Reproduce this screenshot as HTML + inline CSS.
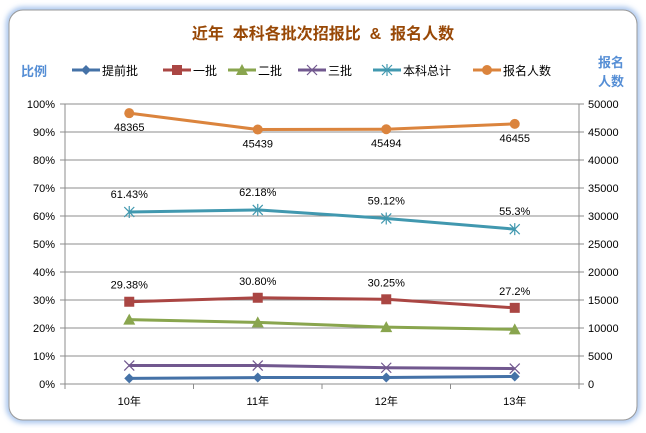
<!DOCTYPE html>
<html><head><meta charset="utf-8"><style>
body{margin:0;background:#fff;font-family:"Liberation Sans","Noto Sans CJK SC",sans-serif}
</style></head><body>
<svg width="646" height="428" xmlns="http://www.w3.org/2000/svg" style="font-family:'Liberation Sans','Noto Sans CJK SC',sans-serif">
<defs><filter id="g" x="-5%" y="-5%" width="110%" height="110%"><feGaussianBlur stdDeviation="3"/></filter></defs>
<rect x="9" y="10" width="628" height="410" rx="14" fill="none" stroke="#8fb4e8" stroke-width="5" filter="url(#g)"/>
<rect x="9" y="10" width="628" height="410" rx="14" fill="#fff" stroke="#9a9a9a" stroke-width="1"/>
<text x="323" y="39" text-anchor="middle" font-size="16" font-weight="bold" fill="#984806" xml:space="preserve">近年  本科各批次招报比  &amp;  报名人数</text>
<text x="34" y="76" text-anchor="middle" font-size="13" font-weight="bold" fill="#558ed5">比例</text>
<text x="611" y="67" text-anchor="middle" font-size="13" font-weight="bold" fill="#558ed5">报名</text>
<text x="611" y="86" text-anchor="middle" font-size="13" font-weight="bold" fill="#558ed5">人数</text>
<g id="legend"></g>
<g id="grid"></g><g id="plot"></g>
</svg>
<script>
const categories=['10年','11年','12年','13年'];
const s0=[2.0,2.3,2.3,2.7];
const s1=[29.38,30.80,30.25,27.2];
const s2=[23.0,22.0,20.3,19.5];
const s3=[6.6,6.6,5.8,5.5];
const s4=[61.43,62.18,59.12,55.3];
const s5=[48365,45439,45494,46455];
const s1Labels=['29.38%','30.80%','30.25%','27.2%'];
const s4Labels=['61.43%','62.18%','59.12%','55.3%'];
const s5Labels=['48365','45439','45494','46455'];
const leftTicks=[0,10,20,30,40,50,60,70,80,90,100];
const rightTicks=[0,5000,10000,15000,20000,25000,30000,35000,40000,45000,50000];
const names=['提前批','一批','二批','三批','本科总计','报名人数'];
const colors=['#4572a7','#aa4643','#89a54e','#71588f','#4198af','#db843d'];
const markers=['diamond','square','triangle','x','star','circle'];
const NS='http://www.w3.org/2000/svg';
const L=65,R=579,T=104,B=384;
const x=i=>L+(R-L)/categories.length*(i+0.5);
const yL=v=>B-(B-T)*v/100;
const yR=v=>B-(B-T)*v/50000;
function el(t,a,p){const e=document.createElementNS(NS,t);for(const k in a)e.setAttribute(k,a[k]);p.appendChild(e);return e;}
const grid=document.getElementById('grid'),plot=document.getElementById('plot'),leg=document.getElementById('legend');
leftTicks.forEach((v,i)=>{
 const l=el('line',{x1:L-5,x2:R+5,y1:yL(v),y2:yL(v),stroke:'#8c8c8c','stroke-width':1},grid);
 
 
 const t=el('text',{x:L-10,y:yL(v)+4,'text-anchor':'end','font-size':11,fill:'#000'},grid);t.textContent=v+'%';
 
 
});
rightTicks.forEach(v=>{
 const t=el('text',{x:R+9,y:yR(v)+4,'font-size':11,fill:'#000'},grid);t.textContent=v;
 
 
});
el('line',{x1:L,x2:L,y1:T,y2:B,stroke:'#8c8c8c'},grid);
el('line',{x1:R,x2:R,y1:T,y2:B,stroke:'#8c8c8c'},grid);
for(let i=0;i<=categories.length;i++)el('line',{x1:L+(R-L)/categories.length*i,x2:L+(R-L)/categories.length*i,y1:B,y2:B+5,stroke:'#8c8c8c'},grid);
categories.forEach((c,i)=>{const t=el('text',{x:x(i),y:B+21,'text-anchor':'middle','font-size':11},grid);t.textContent=c;
 
 });
function marker(type,cx,cy,col,g){
 if(type==='diamond')el('polygon',{points:`${cx},${cy-5} ${cx+5},${cy} ${cx},${cy+5} ${cx-5},${cy}`,fill:col},g);
 else if(type==='square')el('rect',{x:cx-5,y:cy-5,width:10,height:10,fill:col},g);
 else if(type==='triangle')el('polygon',{points:`${cx},${cy-6} ${cx+6},${cy+5} ${cx-6},${cy+5}`,fill:col},g);
 else if(type==='x'){el('path',{d:`M${cx-5} ${cy-5}L${cx+5} ${cy+5}M${cx+5} ${cy-5}L${cx-5} ${cy+5}`,stroke:col,'stroke-width':1.2},g);}
 else if(type==='star'){el('path',{d:`M${cx-5} ${cy-5}L${cx+5} ${cy+5}M${cx+5} ${cy-5}L${cx-5} ${cy+5}M${cx} ${cy-6}L${cx} ${cy+6}`,stroke:col,'stroke-width':1.2},g);}
 else el('circle',{cx:cx,cy:cy,r:5,fill:col},g);
}
const series=[s0,s1,s2,s3,s4,s5];
series.forEach((s,k)=>{
 const g=el('g',{},plot);
 
 
 const yf=k===5?yR:yL;
 el('polyline',{points:s.map((v,i)=>x(i)+','+yf(v)).join(' '),fill:'none',stroke:colors[k],'stroke-width':3},g);
 s.forEach((v,i)=>marker(markers[k],x(i),yf(v),colors[k],g));
});
function labels(s,lab,yf,dy){lab.forEach((t,i)=>{const e=el('text',{x:x(i),y:yf(s[i])+dy,'text-anchor':'middle','font-size':11},plot);e.textContent=t;
 
 });}
labels(s1,s1Labels,yL,-13);labels(s4,s4Labels,yL,-14);labels(s5,s5Labels,yR,18);
const lx=[72,163,228,298,373,473];
names.forEach((n,k)=>{
 const g=el('g',{},leg);
 
 
 el('line',{x1:lx[k],x2:lx[k]+28,y1:70,y2:70,stroke:colors[k],'stroke-width':3},g);
 marker(markers[k],lx[k]+14,70,colors[k],g);
 const t=el('text',{x:lx[k]+30,y:75,'font-size':12},g);t.textContent=n;
});
</script>
</body></html>
